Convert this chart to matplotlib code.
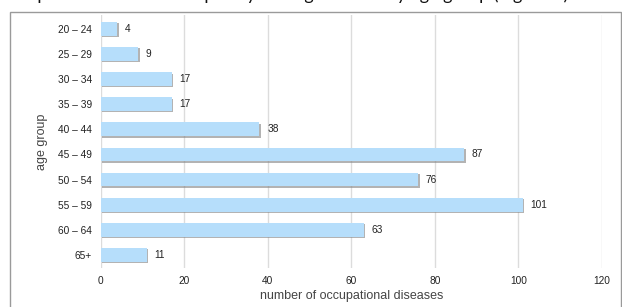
import matplotlib
matplotlib.use("Agg")
import matplotlib.pyplot as plt
import matplotlib.patheffects as pe
from matplotlib.patches import Rectangle

age_groups = ["20 – 24", "25 – 29", "30 – 34", "35 – 39", "40 – 44",
              "45 – 49", "50 – 54", "55 – 59", "60 – 64", "65+"]
counts = [4, 9, 17, 17, 38, 87, 76, 101, 63, 11]
x_ticks = [0, 20, 40, 60, 80, 100, 120]
caption = "occupational diseases frequency among workers by age group (Figure 6)"

W, H = 622, 307
fig = plt.figure(figsize=(W / 100, H / 100), dpi=100)
fig.patch.set_facecolor("white")

# page caption (cut off at top, as in the source screenshot)
fig.text(0.0, 1.0 + 5 / H, caption, fontsize=13, family="Lato",
         color="#111111", ha="left", va="center")

# frame around chart
fig.add_artist(Rectangle((10 / W, -0.05), (621 - 10) / W, 1.05 - 12 / H,
                         transform=fig.transFigure, fill=False,
                         edgecolor="#9a9a9a", linewidth=1.0))

ax = fig.add_axes([100.7 / W, 1 - 268 / H, (602 - 100.7) / W, (268 - 15) / H])
ax.set_facecolor("none")

ypos = list(range(len(age_groups)))
bars = ax.barh(ypos, counts, height=0.55, color="#b6defb", edgecolor="none",
               zorder=3)
for b in bars:
    b.set_path_effects([pe.SimplePatchShadow(offset=(1.0, -1.0),
                                             shadow_rgbFace="#8a8a8a", alpha=0.65),
                        pe.Normal()])

for y, v in zip(ypos, counts):
    ax.annotate(str(v), (v, y), xytext=(5.5, 0), textcoords="offset points",
                ha="left", va="center", fontsize=7.3, family="Liberation Sans",
                color="#222222")

ax.set_xlim(0, 120)
ax.set_ylim(9.52, -0.55)
ax.set_xticks(x_ticks)
ax.set_xticklabels([str(t) for t in x_ticks])
ax.set_yticks(ypos)
ax.set_yticklabels(age_groups)
ax.tick_params(axis="both", length=0, labelsize=7.3, labelcolor="#222222")
ax.tick_params(axis="x", pad=6)
ax.tick_params(axis="y", pad=6.5)
for lab in ax.get_xticklabels() + ax.get_yticklabels():
    lab.set_family("Liberation Sans")

ax.grid(axis="x", color="#dcdcdc", linewidth=1.0, zorder=0)
ax.grid(axis="y", visible=False)
for s in ax.spines.values():
    s.set_visible(False)

ax.set_xlabel("number of occupational diseases", fontsize=9,
              family="Liberation Sans", color="#444444", labelpad=3)
ax.set_ylabel("age group", fontsize=9, family="Liberation Sans",
              color="#444444", labelpad=7)

fig.savefig("out.png", dpi=100, facecolor="white")
